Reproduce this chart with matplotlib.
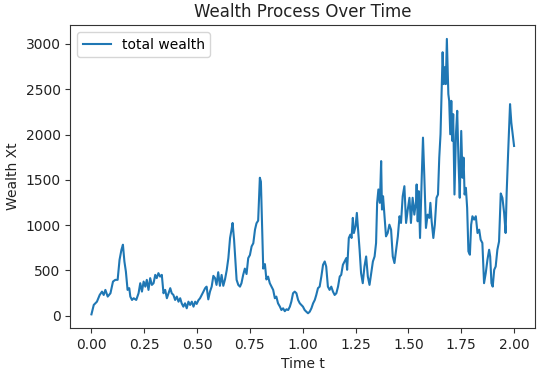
import matplotlib
matplotlib.use("Agg")
import matplotlib.pyplot as plt

t = [0.0, 0.011, 0.026, 0.039, 0.05, 0.058, 0.066, 0.077, 0.09, 0.102, 0.113, 0.124, 0.133, 0.142, 0.149,
     0.156, 0.163, 0.171, 0.179, 0.184, 0.192, 0.2, 0.212,
     0.223, 0.231, 0.239, 0.247, 0.255, 0.262, 0.27, 0.278, 0.286, 0.294, 0.302, 0.309, 0.317, 0.325, 0.333,
     0.341, 0.349, 0.357, 0.365, 0.373, 0.38, 0.388, 0.396, 0.404, 0.412, 0.42, 0.427, 0.435, 0.443, 0.451,
     0.459, 0.467, 0.475,
     0.483, 0.491, 0.498, 0.506, 0.514, 0.522, 0.53, 0.538, 0.545, 0.553, 0.561, 0.569, 0.577, 0.585, 0.592,
     0.6, 0.608, 0.616, 0.624, 0.632, 0.64, 0.648, 0.656, 0.663, 0.668, 0.675, 0.679, 0.687, 0.695, 0.703,
     0.71, 0.718, 0.726, 0.734,
     0.742, 0.75, 0.758, 0.766, 0.774, 0.781, 0.789, 0.797, 0.802, 0.808, 0.813, 0.821, 0.828, 0.836, 0.844,
     0.852, 0.86, 0.868, 0.875, 0.883, 0.892, 0.899, 0.907, 0.915, 0.923, 0.931, 0.939, 0.946, 0.954, 0.962,
     0.97, 0.978, 0.986, 0.993, 1.001, 1.009,
     1.017, 1.025, 1.033, 1.041, 1.049, 1.057, 1.064, 1.072, 1.08, 1.088, 1.096, 1.104, 1.111, 1.119, 1.127,
     1.135, 1.143, 1.151, 1.159, 1.167, 1.175, 1.182, 1.19, 1.198, 1.206, 1.21, 1.218, 1.225, 1.231, 1.237,
     1.242, 1.25, 1.256, 1.262,
     1.269, 1.276, 1.284, 1.292, 1.3, 1.308, 1.316, 1.324, 1.332, 1.34, 1.347, 1.352, 1.358, 1.365, 1.371,
     1.375, 1.38, 1.387, 1.394, 1.402, 1.41, 1.418, 1.426, 1.434, 1.442, 1.45, 1.458, 1.465, 1.473, 1.481,
     1.489, 1.497, 1.505, 1.512,
     1.52, 1.528, 1.536, 1.539, 1.544, 1.549, 1.555, 1.563, 1.569, 1.575, 1.583, 1.591, 1.599, 1.604, 1.61,
     1.618, 1.625, 1.633, 1.64, 1.646, 1.652, 1.657, 1.662, 1.667, 1.671, 1.677, 1.682, 1.689, 1.693, 1.698,
     1.703, 1.708, 1.712, 1.718, 1.725, 1.731, 1.737, 1.743, 1.75, 1.756, 1.761, 1.766, 1.772, 1.778, 1.784,
     1.791, 1.797,
     1.803, 1.811, 1.819, 1.827, 1.835, 1.842, 1.85, 1.858, 1.866, 1.874, 1.882, 1.887, 1.893, 1.899, 1.906,
     1.913, 1.921, 1.929, 1.937, 1.945, 1.953, 1.96, 1.965, 1.972, 1.981, 1.987, 2.0]

wealth = [15, 119, 155, 229, 266, 229, 285, 211, 248, 377, 396, 396, 617, 728, 784,
          599, 488, 285, 304, 211, 174, 193, 174,
          248, 359, 266, 377, 321, 396, 285, 415, 340, 359, 451, 415, 470, 432, 451,
          248, 285, 193, 248, 304, 248, 229, 174, 211, 155, 193, 137, 100, 137, 82,
          155, 119, 155,
          100, 155, 130, 170, 193, 229, 266, 304, 321, 180, 266, 321, 440, 415, 340,
          480, 330, 450, 330, 400, 500, 636, 858, 950, 1024, 839, 692, 396, 340, 321,
          359, 450, 520, 460,
          636, 670, 765, 800, 950, 1020, 1050, 1523, 1480, 950, 520, 570, 400, 432, 359,
          321, 285, 193, 211, 137, 100, 63, 82, 50, 71, 63, 100, 155, 248, 266,
          248, 174, 137, 119, 100, 63,
          44, 27, 44, 82, 137, 174, 229, 304, 321, 432, 562, 599, 543, 321, 285,
          321, 266, 229, 248, 321, 432, 451, 562, 599, 636, 507, 858, 895, 858, 1080,
          913, 987, 1135, 950,
          728, 470, 359, 543, 654, 432, 340, 470, 599, 654, 803, 1246, 1394, 1246, 1707,
          1172, 1319, 1098, 876, 913, 1005, 950, 654, 581, 728, 876, 1098, 1024, 1319, 1430,
          1024, 1172, 1302, 1024,
          1302, 1116, 1264, 1449, 1042, 1375, 858, 1523, 1966, 1560, 969, 1116, 1080, 1246, 1042,
          858, 1005, 1302, 1338, 1745, 2003, 2447, 2909, 2557, 2743, 2557, 3056, 2447, 2372, 2003,
          2372, 1929, 2225, 1338, 2003, 2262, 1707, 1302, 2040, 1523, 1745, 1338, 1412, 1190, 710,
          673, 1005,
          1098, 1061, 1098, 913, 950, 839, 803, 359, 470, 617, 728, 654, 359, 321, 507,
          543, 728, 820, 1350, 1300, 1135, 913, 1357, 1800, 2336, 2133, 1874]

x_ticks = [0.0, 0.25, 0.5, 0.75, 1.0, 1.25, 1.5, 1.75, 2.0]
y_ticks = [0, 500, 1000, 1500, 2000, 2500, 3000]

fig = plt.figure(figsize=(5.45, 3.75), dpi=100)
ax = fig.add_subplot(111)
fig.subplots_adjust(left=0.129, right=0.982, bottom=0.125, top=0.933)

ax.plot(t, wealth, color="#1f77b4", linewidth=1.5, label="total wealth")
ax.set_xticks(x_ticks)
ax.set_yticks(y_ticks)
ax.tick_params(labelsize=10, colors="#333333", labelcolor="#222222")
for s in ax.spines.values():
    s.set_color("#333333")
ax.set_title("Wealth Process Over Time", fontsize=12, color="#222222")
ax.set_xlabel("Time t", fontsize=10, color="#222222")
ax.set_ylabel("Wealth Xt", fontsize=10, color="#222222")
ax.legend(loc="upper left", fontsize=10)

fig.savefig("out.png", dpi=100)
